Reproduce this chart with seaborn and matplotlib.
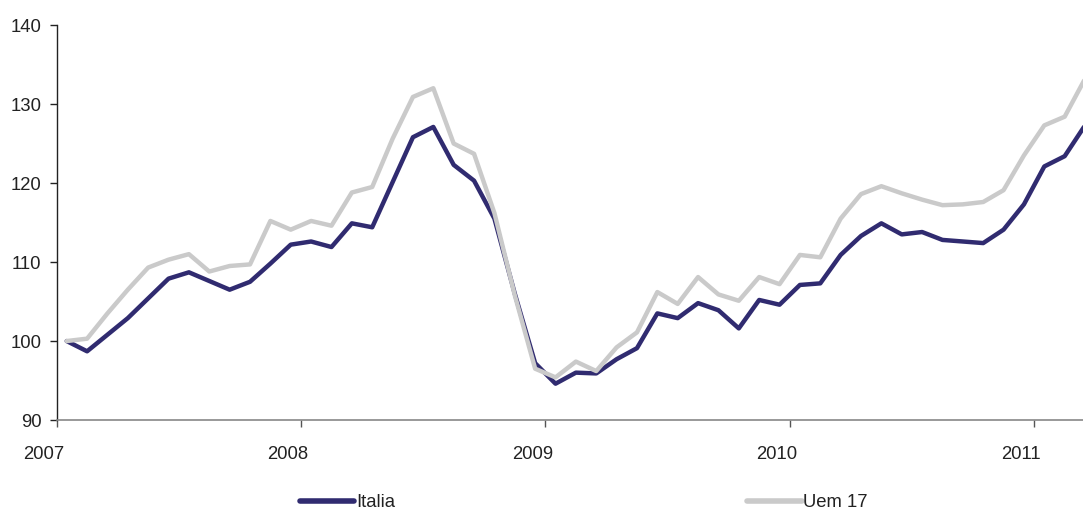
import numpy as np
import pandas as pd
import matplotlib
matplotlib.use("Agg")
from matplotlib import pyplot as plt
from matplotlib import transforms
import seaborn as sns

# Monthly index values, Jan 2007 - Mar 2011 (2007 = 100)
italia = [100.0, 98.7, 100.8, 102.9, 105.4, 107.9, 108.7, 107.6, 106.5, 107.5,
          109.8, 112.2, 112.6, 111.9, 114.9, 114.4, 120.1, 125.8, 127.1, 122.3,
          120.3, 115.5, 106.0, 97.2, 94.6, 96.0, 95.9, 97.7, 99.1, 103.5,
          102.9, 104.8, 103.9, 101.6, 105.2, 104.6, 107.1, 107.3, 110.9, 113.3,
          114.9, 113.5, 113.8, 112.8, 112.6, 112.4, 114.1, 117.3, 122.1, 123.4,
          127.3]
uem17 = [100.0, 100.3, 103.5, 106.5, 109.3, 110.3, 111.0, 108.8, 109.5, 109.7,
         115.2, 114.1, 115.2, 114.6, 118.8, 119.5, 125.6, 130.9, 132.0, 125.0,
         123.7, 116.2, 105.8, 96.5, 95.4, 97.4, 96.2, 99.2, 101.1, 106.2,
         104.7, 108.1, 105.9, 105.1, 108.1, 107.2, 110.9, 110.6, 115.5, 118.6,
         119.6, 118.7, 117.9, 117.2, 117.3, 117.6, 119.1, 123.5, 127.3, 128.4,
         133.2]
years = ["2007", "2008", "2009", "2010", "2011"]

# Build a long-form table: each point sits in the middle of its month
month = np.arange(len(italia)) + 0.5
df = pd.DataFrame({
    "month": np.concatenate([month, month]),
    "value": italia + uem17,
    "serie": ["Italia"] * len(italia) + ["Uem 17"] * len(uem17),
})

sns.set_theme(style="white")
plt.rcParams["font.family"] = ["Liberation Sans", "DejaVu Sans"]

fig = plt.figure(figsize=(10.83, 5.11), dpi=100)
ax = fig.add_axes([0.0522, 0.178, 0.9478, 0.773])

sns.lineplot(data=df, x="month", y="value", hue="serie",
             palette={"Italia": "#302B70", "Uem 17": "#CACACA"},
             linewidth=3.2, ax=ax)

ax.set_xlim(0, 50.4)
ax.set_ylim(90, 140)
ax.set_yticks([90, 100, 110, 120, 130, 140])
ax.set_xticks([0, 12, 24, 36, 48])
ax.set_xticklabels(years)
ax.set_xlabel("")
ax.set_ylabel("")

ax.tick_params(axis="both", labelsize=13.3, colors="#222222", length=5,
               width=1, direction="out")
ax.tick_params(axis="x", pad=14, color="#555555")
ax.tick_params(axis="y", pad=6, color="#222222")
ax.tick_params(left=True, bottom=True)

# Year labels sit a little to the left of their tick marks
# (done after tick_params, which resets the label transforms)
shift = transforms.ScaledTranslation(-13 / 100, 0, fig.dpi_scale_trans)
for lbl in ax.get_xticklabels():
    lbl.set_transform(lbl.get_transform() + shift)

for side in ["top", "right"]:
    ax.spines[side].set_visible(False)
ax.spines["left"].set_color("#222222")
ax.spines["bottom"].set_color("#888888")
ax.spines["left"].set_linewidth(1)
ax.spines["bottom"].set_linewidth(1.2)

leg = ax.legend(loc="center left", bbox_to_anchor=(0.237, -0.21), ncol=2,
                frameon=False, fontsize=13.3, handlelength=2.95,
                handletextpad=0.1, columnspacing=19.05, borderaxespad=0,
                borderpad=0)
for line in leg.get_lines():
    line.set_linewidth(4)
for txt in leg.get_texts():
    txt.set_color("#222222")

fig.savefig("out.png", dpi=100)
